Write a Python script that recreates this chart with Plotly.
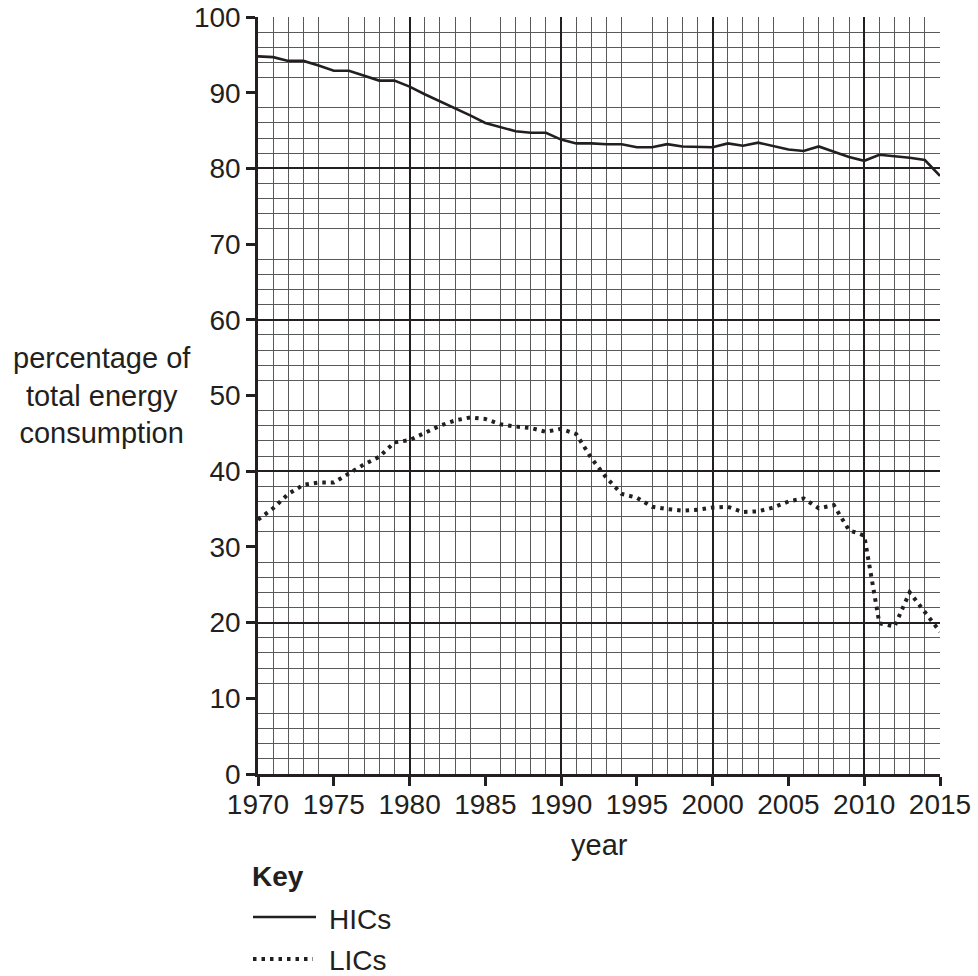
import plotly.graph_objects as go

years = list(range(1970, 2016))
hics = [94.8, 94.7, 94.2, 94.2, 93.6, 92.9, 92.9, 92.2, 91.6, 91.6,
        90.8, 89.8, 88.9, 88.0, 87.0, 86.0, 85.5, 84.9, 84.7, 84.7,
        83.8, 83.3, 83.3, 83.2, 83.2, 82.8, 82.8, 83.2, 82.9, 82.9,
        82.8, 83.3, 83.0, 83.4, 82.9, 82.5, 82.3, 82.9, 82.2, 81.5,
        81.0, 81.8, 81.6, 81.4, 81.1, 79.0]
lics = [33.6, 35.1, 37.0, 38.2, 38.5, 38.5, 39.7, 40.9, 41.9, 43.8,
        44.1, 45.0, 46.0, 46.7, 47.1, 46.9, 46.2, 45.9, 45.7, 45.2,
        45.6, 44.9, 41.7, 39.1, 37.0, 36.5, 35.3, 35.0, 34.8, 34.9,
        35.2, 35.3, 34.6, 34.7, 35.2, 36.0, 36.4, 35.1, 35.5, 32.2,
        31.5, 19.9, 19.5, 24.0, 21.4, 18.8]

ink = "#231f20"
font_family = "Liberation Sans, Arial, sans-serif"

W, H = 978, 976
L, R, T, B = 258, 38, 17, 202
pw, ph = W - L - R, H - T - B


def px(x):
    return (x - L) / pw


def py(y):
    return (H - B - y) / ph


dot_style = "3.5px,5px"

fig = go.Figure()
fig.add_trace(go.Scatter(x=years, y=hics, mode="lines", name="HICs",
                         line=dict(color=ink, width=2.6), showlegend=False))
fig.add_trace(go.Scatter(x=years, y=lics, mode="lines", name="LICs",
                         line=dict(color=ink, width=4, dash=dot_style),
                         showlegend=False))
# invisible trace to host the overlay axes (thick grid)
fig.add_trace(go.Scatter(x=[1970, 2015], y=[0, 100], xaxis="x2", yaxis="y2",
                         mode="markers", marker=dict(opacity=0),
                         hoverinfo="skip", showlegend=False))

minor_grid = "#58595b"
fig.update_layout(
    width=W, height=H,
    margin=dict(l=L, r=R, t=T, b=B, autoexpand=False),
    paper_bgcolor="white", plot_bgcolor="white",
    font=dict(family=font_family, size=28, color=ink),
    xaxis=dict(range=[1970, 2015], dtick=5, tick0=1970, showgrid=False,
               automargin=False, ticklabelstandoff=-5,
               zeroline=False, showline=True, linecolor=ink, linewidth=2.5,
               ticks="outside", ticklen=9, tickwidth=2.5, tickcolor=ink,
               tickfont=dict(size=28, color=ink),
               minor=dict(dtick=1, showgrid=True, gridcolor=minor_grid,
                          gridwidth=1.3, ticks="")),
    yaxis=dict(range=[0, 100], dtick=10, tick0=0, showgrid=False,
               automargin=False,
               zeroline=False, showline=True, linecolor=ink, linewidth=2.5,
               ticks="outside", ticklen=9, tickwidth=2.5, tickcolor=ink,
               tickfont=dict(size=28, color=ink),
               minor=dict(dtick=2, showgrid=True, gridcolor=minor_grid,
                          gridwidth=1.3, ticks="")),
    xaxis2=dict(overlaying="x", range=[1970, 2015], dtick=10, tick0=1970,
                automargin=False,
                showgrid=True, gridcolor=ink, gridwidth=2, zeroline=False,
                showticklabels=False, ticks="", showline=False),
    yaxis2=dict(overlaying="y", range=[0, 100], dtick=20, tick0=0,
                automargin=False,
                showgrid=True, gridcolor=ink, gridwidth=2, zeroline=False,
                showticklabels=False, ticks="", showline=False),
)

annotations = [
    dict(text="percentage of<br>total energy<br>consumption", x=px(102), y=py(395),
         xanchor="center", yanchor="middle", align="center", showarrow=False,
         font=dict(size=29, color=ink)),
    dict(text="year", x=px(599), y=py(845), xanchor="center", yanchor="middle",
         showarrow=False, font=dict(size=29, color=ink)),
    dict(text="<b>Key</b>", x=px(250), y=py(876), xanchor="left", yanchor="middle",
         showarrow=False, font=dict(size=28, color=ink)),
    dict(text="HICs", x=px(327), y=py(919), xanchor="left", yanchor="middle",
         showarrow=False, font=dict(size=28, color=ink)),
    dict(text="LICs", x=px(327), y=py(960), xanchor="left", yanchor="middle",
         showarrow=False, font=dict(size=28, color=ink)),
]
for a in annotations:
    a.update(xref="paper", yref="paper")
fig.update_layout(annotations=annotations)

fig.add_shape(type="line", xref="paper", yref="paper",
              x0=px(253), x1=px(316), y0=py(917), y1=py(917),
              line=dict(color=ink, width=2.6))
fig.add_shape(type="line", xref="paper", yref="paper",
              x0=px(253), x1=px(313), y0=py(959), y1=py(959),
              line=dict(color=ink, width=4, dash=dot_style))

fig.write_html("out.html", config={"displayModeBar": False},
               post_script="document.body.style.margin='0';document.body.style.overflow='hidden';")
